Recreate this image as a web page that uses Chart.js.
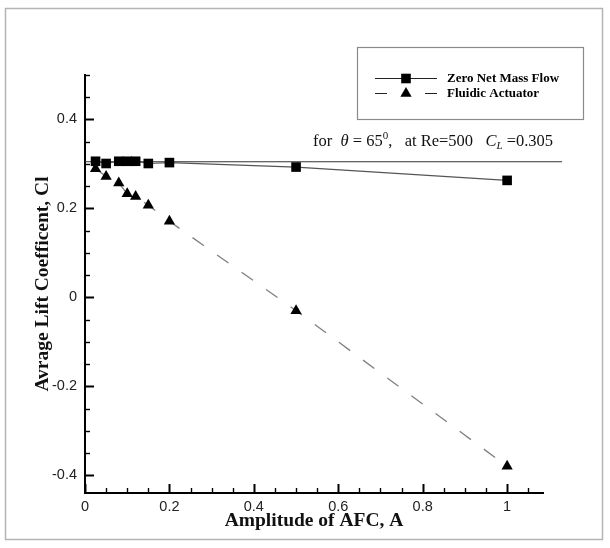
<!DOCTYPE html>
<html>
<head>
<meta charset="utf-8">
<script src="https://cdn.jsdelivr.net/npm/chart.js@4/dist/chart.umd.min.js"></script>
<style>
  html, body { margin: 0; padding: 0; background: #fff; }
  canvas { display: block; }
</style>
</head>
<body>
<canvas id="c" width="610" height="548"></canvas>
<script>
// Lift coefficient vs. active flow control amplitude
const amplitude        = [0.025, 0.05, 0.08, 0.1, 0.12, 0.15, 0.2, 0.5, 1];
const zeroNetMassFlow  = [0.306, 0.301, 0.306, 0.306, 0.306, 0.301, 0.303, 0.293, 0.263];
const fluidicActuator  = [0.289, 0.272, 0.257, 0.233, 0.227, 0.207, 0.171, -0.03, -0.38];
const baselineCL       = 0.305;           // uncontrolled case, theta = 65 deg, Re = 500
const baselineSpan     = [0, 1.13];       // extent of the reference line along A
const xTickValues      = [0, 0.2, 0.4, 0.6, 0.8, 1];
const yTickValues      = [-0.4, -0.2, 0, 0.2, 0.4];
const seriesNames      = ['Zero Net Mass Flow', 'Fluidic Actuator'];

const X_MAX = 1.085, Y_MIN = -0.44, Y_MAX = 0.5;
const SERIF = '"Liberation Serif", "Times New Roman", serif';
const SANS  = '"Liberation Sans", Arial, sans-serif';

const toPoints = (xs, ys) => xs.map((x, i) => ({ x: x, y: ys[i] }));

// outer frame around the whole figure
const framePlugin = {
  id: 'frame',
  beforeDraw(chart) {
    const ctx = chart.ctx;
    ctx.save();
    ctx.fillStyle = '#fff';
    ctx.fillRect(0, 0, chart.width, chart.height);
    ctx.strokeStyle = '#b4b4b4';
    ctx.lineWidth = 1.5;
    ctx.strokeRect(5.5, 8.5, 597, 531);
    ctx.restore();
  }
};

// inward-pointing major/minor tick marks on both axes
const inwardTicks = {
  id: 'inwardTicks',
  afterDraw(chart) {
    const ctx = chart.ctx, xs = chart.scales.x, ys = chart.scales.y;
    const isMajor = (v, list) => list.some(t => Math.abs(t - v) < 1e-6);
    ctx.save();
    ctx.setLineDash([]);
    ctx.strokeStyle = '#000';
    const ny = Math.floor(Y_MAX / 0.05 + 1e-6);
    for (let i = -8; i <= ny; i++) {
      const v = i * 0.05;
      const major = isMajor(v, yTickValues);
      const py = Math.round(ys.getPixelForValue(v)) + 0.5;
      ctx.lineWidth = major ? 2 : 1.4;
      ctx.beginPath();
      ctx.moveTo(ys.right, py);
      ctx.lineTo(ys.right + (major ? 9 : 5), py);
      ctx.stroke();
    }
    const nx = Math.floor(X_MAX / 0.05 + 1e-6);
    for (let i = 0; i <= nx; i++) {
      const v = i * 0.05;
      const major = isMajor(v, xTickValues);
      const px = Math.round(xs.getPixelForValue(v)) + 0.5;
      ctx.lineWidth = major ? 2 : 1.4;
      ctx.beginPath();
      ctx.moveTo(px, xs.top);
      ctx.lineTo(px, xs.top - (major ? 9 : 5));
      ctx.stroke();
    }
    ctx.restore();
  }
};

function drawMarker(ctx, style, x, y, r) {
  ctx.beginPath();
  if (style === 'rect') {
    const s = Math.SQRT1_2 * r;
    ctx.rect(x - s, y - s, 2 * s, 2 * s);
  } else {
    ctx.moveTo(x, y - r);
    ctx.lineTo(x + Math.sin(2 * Math.PI / 3) * r, y + r / 2);
    ctx.lineTo(x - Math.sin(2 * Math.PI / 3) * r, y + r / 2);
    ctx.closePath();
  }
  ctx.fill();
}

// boxed legend in the upper right
const boxLegend = {
  id: 'boxLegend',
  afterDraw(chart) {
    const ctx = chart.ctx;
    const box = { left: 357, top: 47, right: 583, bottom: 119 };
    ctx.save();
    ctx.strokeStyle = '#8a8a8a';
    ctx.lineWidth = 1.2;
    ctx.strokeRect(box.left + 0.5, box.top + 0.5, box.right - box.left, box.bottom - box.top);
    const rows = [78, 93];
    chart.data.datasets.filter(d => d.inLegend).forEach((ds, i) => {
      const y = rows[i] + 0.5;
      ctx.strokeStyle = '#222';
      ctx.lineWidth = 1.2;
      ctx.setLineDash(ds.borderDash && ds.borderDash.length ? [12, 38] : []);
      ctx.beginPath();
      ctx.moveTo(375, y);
      ctx.lineTo(437, y);
      ctx.stroke();
      ctx.setLineDash([]);
      ctx.fillStyle = '#000';
      drawMarker(ctx, ds.pointStyle, 406, y, ds.pointRadius);
      ctx.font = 'bold 13px ' + SERIF;
      ctx.textBaseline = 'middle';
      ctx.textAlign = 'left';
      ctx.fillText(ds.label, 447, y);
    });
    ctx.restore();
  }
};

// caption above the uncontrolled reference line
const baselineCaption = {
  id: 'baselineCaption',
  afterDraw(chart) {
    const ctx = chart.ctx;
    let x = 313;
    const y = 146;
    ctx.save();
    ctx.fillStyle = '#111';
    ctx.textBaseline = 'alphabetic';
    ctx.textAlign = 'left';
    const put = (txt, font, dy) => {
      ctx.font = font;
      ctx.fillText(txt, x, y + (dy || 0));
      x += ctx.measureText(txt).width;
    };
    const reg = '16.5px ' + SERIF, ital = 'italic 16.5px ' + SERIF;
    const small = '11px ' + SERIF, smallI = 'italic 11px ' + SERIF;
    put('for  ', reg);
    put('\u03B8', ital);
    put(' = 65', reg);
    put('0', small, -7);
    put(',   at Re=500   ', reg);
    put('C', ital);
    put('L', smallI, 3);
    put(' =' + baselineCL, reg);
    ctx.restore();
  }
};

const chart = new Chart(document.getElementById('c'), {
  type: 'scatter',
  data: {
    datasets: [
      {
        label: seriesNames[0],
        inLegend: true,
        data: toPoints(amplitude, zeroNetMassFlow),
        showLine: true,
        borderColor: '#555',
        borderWidth: 1.2,
        pointStyle: 'rect',
        pointRadius: 6.8,
        pointBackgroundColor: '#000',
        pointBorderColor: '#000',
        pointBorderWidth: 0
      },
      {
        label: seriesNames[1],
        inLegend: true,
        data: toPoints(amplitude, fluidicActuator),
        showLine: true,
        borderColor: '#808080',
        borderWidth: 1.3,
        borderDash: [14, 16],
        pointStyle: 'triangle',
        pointRadius: 6.5,
        pointBackgroundColor: '#000',
        pointBorderColor: '#000',
        pointBorderWidth: 0
      },
      {
        label: 'baseline',
        inLegend: false,
        data: baselineSpan.map(x => ({ x: x, y: baselineCL })),
        showLine: true,
        borderColor: '#333',
        borderWidth: 1.1,
        pointRadius: 0,
        clip: false
      }
    ]
  },
  options: {
    responsive: false,
    animation: false,
    devicePixelRatio: 1,
    layout: { padding: { top: 75, right: 67, bottom: 0, left: 0 } },
    plugins: {
      legend: { display: false },
      tooltip: { enabled: false }
    },
    scales: {
      x: {
        type: 'linear',
        min: 0,
        max: X_MAX,
        afterBuildTicks: s => { s.ticks = xTickValues.map(v => ({ value: v })); },
        afterFit: s => { s.height = 55; },
        ticks: {
          callback: v => String(v),
          font: { family: SANS, size: 14.5 },
          color: '#222',
          padding: 5,
          maxRotation: 0,
          autoSkip: false
        },
        grid: { display: false, drawTicks: false },
        border: { display: true, color: '#000', width: 2 },
        title: {
          display: true,
          text: 'Amplitude of AFC, A',
          font: { family: SERIF, size: 19.5, weight: 'bold' },
          color: '#111',
          padding: { top: 0, bottom: 15 }
        }
      },
      y: {
        type: 'linear',
        min: Y_MIN,
        max: Y_MAX,
        afterBuildTicks: s => { s.ticks = yTickValues.map(v => ({ value: v })); },
        afterFit: s => { s.width = 85; },
        ticks: {
          callback: v => String(v),
          font: { family: SANS, size: 14.5 },
          color: '#222',
          padding: 8,
          autoSkip: false
        },
        grid: { display: false, drawTicks: false },
        border: { display: true, color: '#000', width: 2 },
        title: {
          display: true,
          text: 'Avrage Lift Coefficent, Cl',
          font: { family: SERIF, size: 19.5, weight: 'bold' },
          color: '#111',
          padding: { top: 31, bottom: 0 }
        }
      }
    }
  },
  plugins: [framePlugin, inwardTicks, boxLegend, baselineCaption]
});
</script>
</body>
</html>
